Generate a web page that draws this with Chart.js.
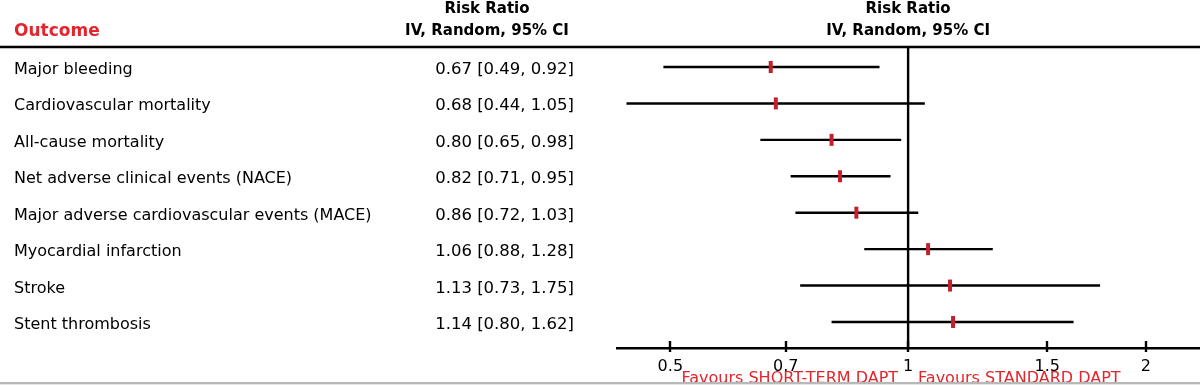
<!DOCTYPE html>
<html><head><meta charset="utf-8">
<script src="https://cdn.jsdelivr.net/npm/chart.js@4.4.1/dist/chart.umd.min.js"></script>
<style>html,body{margin:0;padding:0;background:#fff;} #wrap{width:1200px;height:385px;position:relative;}</style>
</head><body><div id="wrap"><canvas id="c"></canvas></div>
<script>
const outcomes = ["Major bleeding","Cardiovascular mortality","All-cause mortality","Net adverse clinical events (NACE)","Major adverse cardiovascular events (MACE)","Myocardial infarction","Stroke","Stent thrombosis"];
const riskRatio = [0.67,0.68,0.80,0.82,0.86,1.06,1.13,1.14];
const ciLower = [0.49,0.44,0.65,0.71,0.72,0.88,0.73,0.80];
const ciUpper = [0.92,1.05,0.98,0.95,1.03,1.28,1.75,1.62];
const xTicks = [0.5,0.7,1,1.5,2];
const colHeader = ["Risk Ratio","IV, Random, 95% CI"];
const outcomeHeader = "Outcome";
const favourLeft = "Favours SHORT-TERM DAPT";
const favourRight = "Favours STANDARD DAPT";

const FONT = '"DejaVu Sans", "Lucida Grande", sans-serif';
const RED_TEXT = '#e3262d';
const RED_MARK = '#c41f2c';
const Y_MIN = -0.549, Y_MAX = 7.714;
const valueText = riskRatio.map((r,i)=>`${r.toFixed(2)} [${ciLower[i].toFixed(2)}, ${ciUpper[i].toFixed(2)}]`);

const ciDatasets = outcomes.map((o,i)=>({
  type:'line', label:o, data:[{x:ciLower[i],y:i},{x:ciUpper[i],y:i}],
  borderColor:'#000', borderWidth:2.4, pointRadius:0, order:2, borderCapStyle:'butt'
}));

const decor = {
  id:'decor',
  beforeDraw(chart){
    const ctx=chart.ctx; ctx.save(); ctx.fillStyle='#fff'; ctx.fillRect(0,0,chart.width,chart.height); ctx.restore();
  },
  afterDraw(chart){
    const {ctx, scales:{x,y}} = chart;
    ctx.save();
    ctx.strokeStyle='#000'; ctx.lineWidth=2.4;
    // header rule
    ctx.beginPath(); ctx.moveTo(0,47); ctx.lineTo(1200,47); ctx.stroke();
    // tick marks
    xTicks.forEach(v=>{const px=Math.round(x.getPixelForValue(v)); ctx.beginPath(); ctx.moveTo(px,x.top-7); ctx.lineTo(px,x.top+4); ctx.stroke();});
    // headers
    ctx.fillStyle='#000'; ctx.textBaseline='alphabetic';
    ctx.font='bold 15px '+FONT; ctx.textAlign='center';
    const cx1 = x.getPixelForValue(1);
    ctx.fillText(colHeader[0],487,13); ctx.fillText(colHeader[1],487,35);
    ctx.fillText(colHeader[0],cx1,13); ctx.fillText(colHeader[1],cx1,35);
    ctx.fillStyle=RED_TEXT; ctx.font='bold 17px '+FONT; ctx.textAlign='left';
    ctx.fillText(outcomeHeader,14,36);
    // rows
    ctx.fillStyle='#000';
    outcomes.forEach((o,i)=>{
      const py=y.getPixelForValue(i);
      ctx.font='16px '+FONT; ctx.textAlign='left'; ctx.fillText(o,14,py+7);
      ctx.font='16.5px '+FONT; ctx.textAlign='right'; ctx.fillText(valueText[i],574,py+7);
    });
    // favours
    ctx.fillStyle=RED_TEXT; ctx.font='16px '+FONT;
    ctx.textAlign='right'; ctx.fillText(favourLeft,cx1-10,383);
    ctx.textAlign='left'; ctx.fillText(favourRight,cx1+10,383);
    // bottom rule
    ctx.fillStyle='#b8b8b8'; ctx.fillRect(0,382,1200,2);
    ctx.fillStyle='#e6e6e6'; ctx.fillRect(0,384,1200,1);
    ctx.restore();
  }
};

new Chart(document.getElementById('c'),{
  data:{datasets:[
    {type:'scatter', label:'Risk ratio', data:riskRatio.map((r,i)=>({x:r,y:i})),
     pointStyle:'line', rotation:90, radius:6, borderWidth:4, borderColor:RED_MARK, backgroundColor:RED_MARK, order:0},
    ...ciDatasets,
    {type:'line', label:'No effect', data:[{x:1,y:Y_MIN},{x:1,y:Y_MAX}], borderColor:'#000', borderWidth:2.4, pointRadius:0, order:3}
  ]},
  options:{
    responsive:true, maintainAspectRatio:false, devicePixelRatio:1, animation:false,
    layout:{autoPadding:false, padding:{left:617,right:1,top:47,bottom:0}},
    plugins:{legend:{display:false},tooltip:{enabled:false}},
    scales:{
      x:{type:'logarithmic', min:0.428, max:2.335, position:'bottom',
        afterBuildTicks:(s)=>{s.ticks=xTicks.map(v=>({value:v}));},
        afterFit:(s)=>{s.height=37; s.paddingLeft=0; s.paddingRight=0;},
        grid:{display:false, drawTicks:false},
        border:{display:true,color:'#000',width:2.4},
        ticks:{autoSkip:false, maxRotation:0, padding:9, color:'#000', font:{family:FONT,size:16}, callback:(v)=>String(v)}},
      y:{type:'linear', reverse:true, min:Y_MIN, max:Y_MAX, display:false}
    }
  },
  plugins:[decor]
});
</script></body></html>
